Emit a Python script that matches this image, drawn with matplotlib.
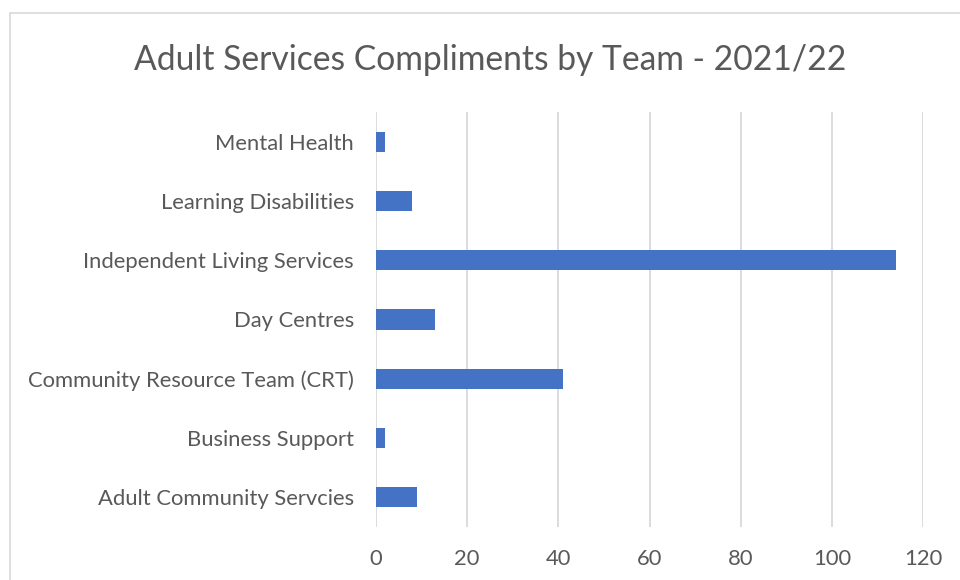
import matplotlib.pyplot as plt
from matplotlib.patches import Rectangle

# Compliments received per team, 2021/22 (bottom to top)
teams = ['Adult Community Servcies', 'Business Support', 'Community Resource Team (CRT)',
         'Day Centres', 'Independent Living Services', 'Learning Disabilities', 'Mental Health']
compliments = [9, 2, 41, 13, 114, 8, 2]
xticks = [0, 20, 40, 60, 80, 100, 120]

text_col = '#595959'
plt.rcParams['font.family'] = ['Lato', 'DejaVu Sans']

fig = plt.figure(figsize=(9.6, 5.8), dpi=100)
ax = fig.add_axes([376 / 960, 1 - 527 / 580, 547 / 960, 415 / 580])

# chart frame
fig.patches.append(Rectangle((10 / 960, -0.2), 1.2, 1.2 - 13 / 580, transform=fig.transFigure,
                             fill=False, edgecolor='#d9d9d9', linewidth=1.2))

ax.barh(range(len(teams)), compliments, height=0.34, color='#4472C4', zorder=3)
ax.set_xlim(0, 120)
ax.set_ylim(-0.5, len(teams) - 0.5)
ax.set_xticks(xticks)
ax.set_yticks(range(len(teams)))
ax.set_yticklabels(teams)
ax.grid(axis='x', color='#d9d9d9', linewidth=1.3, zorder=0)
ax.tick_params(length=0, labelsize=15.8, labelcolor=text_col)
ax.tick_params(axis='y', pad=16)
ax.tick_params(axis='x', pad=16)
for s in ax.spines.values():
    s.set_visible(False)

fig.text(490 / 960, 1 - 60 / 580, 'Adult Services Compliments by Team - 2021/22',
         ha='center', va='center', fontsize=24.2, color=text_col)

fig.savefig('out.png', dpi=100)
